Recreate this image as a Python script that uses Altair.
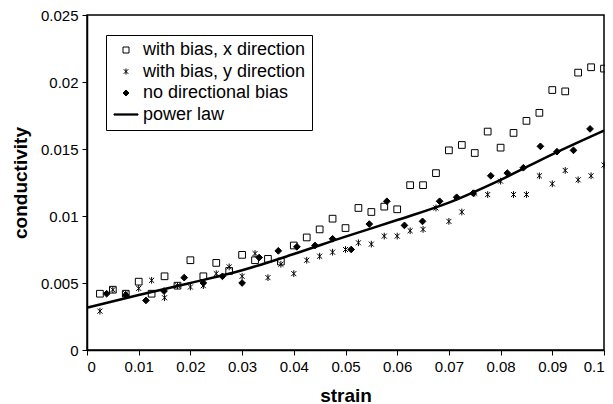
import altair as alt
import pandas as pd

# ---- data ----
sq_x = [0.0025, 0.005, 0.0075, 0.01, 0.0125, 0.015, 0.0175, 0.02, 0.0225, 0.025,
        0.0275, 0.03, 0.0325, 0.035, 0.0375, 0.04, 0.0425, 0.045, 0.0475, 0.05,
        0.0525, 0.055, 0.0575, 0.06, 0.0625, 0.065, 0.0675, 0.07, 0.0725, 0.075,
        0.0775, 0.08, 0.0825, 0.085, 0.0875, 0.09, 0.0925, 0.095, 0.0975, 0.1]
sq_y = [0.0042, 0.0045, 0.0042, 0.0051, 0.0042, 0.0055, 0.0048, 0.0067, 0.0055, 0.0065,
        0.0059, 0.0071, 0.0067, 0.0068, 0.0066, 0.0078, 0.0084, 0.0090, 0.0098, 0.0091,
        0.0106, 0.0103, 0.0107, 0.0105, 0.0123, 0.0123, 0.0132, 0.0149, 0.0153, 0.0147,
        0.0163, 0.0151, 0.0162, 0.0171, 0.0177, 0.0194, 0.0193, 0.0207, 0.0211, 0.0210]

st_x = sq_x
st_y = [0.0029, 0.0045, 0.0042, 0.0046, 0.0052, 0.0039, 0.0048, 0.0047, 0.0048, 0.0057,
        0.0062, 0.0055, 0.0072, 0.0054, 0.0064, 0.0057, 0.0067, 0.0070, 0.0073, 0.0075,
        0.0080, 0.0079, 0.0085, 0.0085, 0.0089, 0.0090, 0.0106, 0.0096, 0.0103, 0.0117,
        0.0116, 0.0126, 0.0116, 0.0116, 0.0130, 0.0124, 0.0134, 0.0127, 0.0130, 0.0138]

di_x = [0.0038, 0.0075, 0.0114, 0.0149, 0.0188, 0.0225, 0.0262, 0.0300, 0.0333, 0.0370,
        0.0406, 0.0441, 0.0475, 0.0511, 0.0546, 0.0580, 0.0614, 0.0649, 0.0682, 0.0715,
        0.0747, 0.0781, 0.0813, 0.0844, 0.0877, 0.0909, 0.0941, 0.0973]
di_y = [0.0042, 0.0041, 0.0037, 0.0044, 0.0054, 0.0050, 0.0055, 0.0050, 0.0069, 0.0074,
        0.0077, 0.0078, 0.0083, 0.0075, 0.0094, 0.0111, 0.0093, 0.0096, 0.0111, 0.0114,
        0.0117, 0.0130, 0.0132, 0.0136, 0.0152, 0.0148, 0.0149, 0.0165]

pl_x = [0.0, 0.01, 0.02, 0.03, 0.04, 0.05, 0.06, 0.07, 0.08, 0.09, 0.1]
pl_y = [0.00316, 0.0041, 0.0050, 0.00595, 0.00716, 0.00846, 0.0097, 0.0110, 0.0127, 0.0146, 0.01637]

names = ["with bias, x direction", "with bias, y direction", "no directional bias", "power law"]

x_ticks = [0, 0.01, 0.02, 0.03, 0.04, 0.05, 0.06, 0.07, 0.08, 0.09, 0.1]
y_ticks = [0, 0.005, 0.01, 0.015, 0.02, 0.025]

pts = pd.concat([
    pd.DataFrame({"strain": sq_x, "conductivity": sq_y, "series": names[0]}),
    pd.DataFrame({"strain": st_x, "conductivity": st_y, "series": names[1]}),
    pd.DataFrame({"strain": di_x, "conductivity": di_y, "series": names[2]}),
])
line_df = pd.DataFrame({"strain": pl_x, "conductivity": pl_y})

FONT = "Liberation Sans"
asterisk = "M-0.75,-0.75L0.75,0.75M-0.75,0.75L0.75,-0.75M0,-1L0,1"
line_glyph = "M-4,-0.2H4V0.2H-4Z"

xs = alt.Scale(domain=[0, 0.1], nice=False)
ys = alt.Scale(domain=[0, 0.025], nice=False)

xax = alt.Axis(values=x_ticks, format="~g", title="strain", grid=False)
yax = alt.Axis(values=y_ticks, format="~g", title="conductivity", grid=False)

leg = alt.Legend(title=None, orient="none", legendX=19, legendY=20)
ser = "series:O"

points = alt.Chart(pts).mark_point(opacity=1, filled=True).encode(
    x=alt.X("strain:Q", scale=xs, axis=xax),
    y=alt.Y("conductivity:Q", scale=ys, axis=yax),
    shape=alt.Shape(ser, sort=names, scale=alt.Scale(domain=names, range=["square", asterisk, "diamond", line_glyph]), legend=leg),
    fill=alt.Fill(ser, sort=names, scale=alt.Scale(domain=names, range=["transparent", "transparent", "black", "black"]), legend=leg),
    stroke=alt.Stroke(ser, sort=names, scale=alt.Scale(domain=names, range=["black", "black", "black", "black"]), legend=leg),
    size=alt.value(45),
    strokeWidth=alt.value(1),
)

line = alt.Chart(line_df).mark_line(color="black", strokeWidth=2.5, interpolate="monotone").encode(
    x=alt.X("strain:Q", scale=xs),
    y=alt.Y("conductivity:Q", scale=ys),
)

chart = alt.layer(line, points).properties(
    width=517, height=335,
    autosize=alt.AutoSizeParams(type="none"),
    padding={"left": 79, "top": 7, "right": 1, "bottom": 54},
).configure_view(
    stroke="black", strokeWidth=1.5
).configure_axis(
    domainColor="black", domainWidth=1.5, tickColor="black", tickSize=5,
    labelFont=FONT, labelFontSize=15, labelColor="black", labelPadding=4,
    titleFont=FONT, titleFontSize=19, titleFontWeight="bold", titleColor="black",
).configure_axisY(titlePadding=10).configure_axisX(titlePadding=12).configure_legend(
    strokeColor="black", fillColor="white", padding=6,
    labelFont=FONT, labelFontSize=18, labelColor="black", labelLimit=400,
    rowPadding=3.5, labelOffset=8, symbolOffset=5, symbolSize=36, symbolStrokeWidth=1,
)

chart.save("out.html", embed_options={"renderer": "svg", "actions": False})
